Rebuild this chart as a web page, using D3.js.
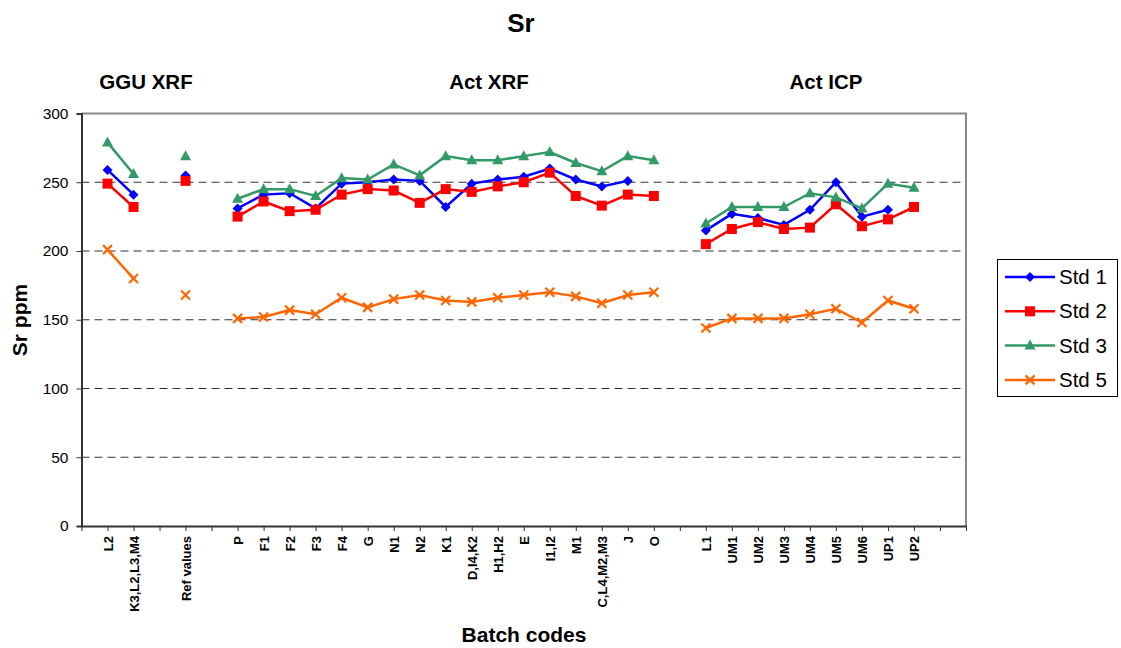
<!DOCTYPE html>
<html><head><meta charset="utf-8">
<script src="https://cdn.jsdelivr.net/npm/d3@7"></script>
<style>body{margin:0;background:#fff;} text{font-family:"Liberation Sans",Arial,sans-serif;}</style>
</head><body>
<svg id="chart" width="1121" height="648"></svg>
<script>
const categories = ["L2","K3,L2,L3,M4","","Ref values","","P","F1","F2","F3","F4","G","N1","N2","K1","D,I4,K2","H1,H2","E","I1,I2","M1","C,L4,M2,M3","J","O","","L1","UM1","UM2","UM3","UM4","UM5","UM6","UP1","UP2",""];
const std1 = [259,241,null,255,null,231,241,242,231,249,250,252,251,232,249,252,254,260,252,247,251,null,null,215,227,224,219,230,250,225,230,null,null];
const std2 = [249,232,null,251,null,225,236,229,230,241,245,244,235,245,243,247,250,257,240,233,241,240,null,205,216,221,216,217,234,218,223,232,null];
const std3 = [279,256,null,269,null,238,245,245,240,253,252,263,255,269,266,266,269,272,264,258,269,266,null,220,232,232,232,242,239,231,249,246,null];
const std5 = [201,180,null,168,null,151,152,157,154,166,159,165,168,164,163,166,168,170,167,162,168,170,null,144,151,151,151,154,158,148,164,158,null];
const yTicks = [0,50,100,150,200,250,300];
const seriesNames = ["Std 1","Std 2","Std 3","Std 5"];
const groupTitles = ["GGU XRF","Act XRF","Act ICP"];

const series = [
  {name: seriesNames[0], values: std1, color: "#0000FF", marker: "diamond"},
  {name: seriesNames[1], values: std2, color: "#FF0000", marker: "square"},
  {name: seriesNames[2], values: std3, color: "#339966", marker: "triangle"},
  {name: seriesNames[3], values: std5, color: "#FF6600", marker: "x"}
];

const svg = d3.select("#chart");
const L = 81.5, R = 966, T = 113.5, B = 526;
const x = d3.scaleLinear().domain([0, categories.length + 1]).range([L, R]);
const y = d3.scaleLinear().domain([0, 300]).range([B, T]);

// gridlines
svg.append("g").selectAll("line").data(yTicks.filter(v => v > 0 && v < 300)).join("line")
  .attr("x1", L).attr("x2", R).attr("y1", d => y(d)).attr("y2", d => y(d))
  .attr("stroke", "#333").attr("stroke-width", 1).attr("stroke-dasharray", "8,5");

// plot border top/right (gray)
svg.append("path").attr("d", `M${L},${T}H${R}V${B}`).attr("fill", "none").attr("stroke", "#888").attr("stroke-width", 2);

// y axis
const yAxis = svg.append("g").attr("transform", `translate(${L},0)`)
  .call(d3.axisLeft(y).tickValues(yTicks).tickSize(5).tickPadding(8));
yAxis.select(".domain").attr("stroke", "#333").attr("stroke-width", 2);
yAxis.selectAll(".tick line").attr("stroke", "#333");
yAxis.selectAll("text").attr("font-size", 15.5).attr("fill", "#000").style("font-family", "Liberation Sans, Arial, sans-serif");

// x axis
const idx = d3.range(0, categories.length + 2);
const xAxis = svg.append("g").attr("transform", `translate(0,${B})`)
  .call(d3.axisBottom(x).tickValues(idx).tickSize(5).tickSizeOuter(0)
    .tickFormat(i => (i >= 1 && i <= categories.length) ? categories[i - 1] : ""));
xAxis.select(".domain").attr("stroke", "#333").attr("stroke-width", 2);
xAxis.selectAll(".tick line").attr("stroke", "#333");
xAxis.selectAll("text")
  .attr("font-size", 13).attr("font-weight", "bold").attr("fill", "#000")
  .style("font-family", "Liberation Sans, Arial, sans-serif")
  .attr("text-anchor", "end").attr("dy", "0.35em")
  .attr("transform", "rotate(-90)")
  .attr("x", -10).attr("y", 0);

// markers
function drawMarker(g, type, color, cx, cy) {
  if (type === "diamond") {
    g.append("path").attr("d", `M${cx},${cy-5}L${cx+5},${cy}L${cx},${cy+5}L${cx-5},${cy}Z`).attr("fill", color);
  } else if (type === "square") {
    g.append("rect").attr("x", cx-5).attr("y", cy-5).attr("width", 10).attr("height", 10).attr("fill", color);
  } else if (type === "triangle") {
    g.append("path").attr("d", `M${cx},${cy-6}L${cx+5.5},${cy+4}L${cx-5.5},${cy+4}Z`).attr("fill", color);
  } else {
    g.append("path").attr("d", `M${cx-4.5},${cy-4.5}L${cx+4.5},${cy+4.5}M${cx+4.5},${cy-4.5}L${cx-4.5},${cy+4.5}`)
      .attr("stroke", color).attr("stroke-width", 2.2).attr("fill", "none");
  }
}

const line = d3.line().defined(d => d.v != null).x(d => x(d.i + 1)).y(d => y(d.v));
series.forEach(s => {
  const pts = s.values.map((v, i) => ({i, v}));
  const g = svg.append("g");
  g.append("path").datum(pts).attr("d", line).attr("fill", "none").attr("stroke", s.color).attr("stroke-width", 2.5);
  pts.filter(d => d.v != null).forEach(d => drawMarker(g, s.marker, s.color, x(d.i + 1), y(d.v)));
});

// titles
svg.append("text").attr("x", 521).attr("y", 32).attr("text-anchor", "middle").attr("font-size", 26).attr("font-weight", "bold").text("Sr");
const groupX = [146, 489, 826];
groupTitles.forEach((t, k) => svg.append("text").attr("x", groupX[k]).attr("y", 89).attr("text-anchor", "middle")
  .attr("font-size", 20.5).attr("font-weight", "bold").text(t));
svg.append("text").attr("transform", "translate(27,320) rotate(-90)").attr("text-anchor", "middle")
  .attr("font-size", 21).attr("font-weight", "bold").text("Sr ppm");
svg.append("text").attr("x", 524).attr("y", 642).attr("text-anchor", "middle")
  .attr("font-size", 21).attr("font-weight", "bold").text("Batch codes");

// legend
const lg = svg.append("g");
lg.append("rect").attr("x", 997.5).attr("y", 259.5).attr("width", 120).attr("height", 137).attr("fill", "#fff").attr("stroke", "#000").attr("stroke-width", 1);
series.forEach((s, k) => {
  const ly = 277 + k * 34.3;
  lg.append("line").attr("x1", 1005).attr("x2", 1055).attr("y1", ly).attr("y2", ly).attr("stroke", s.color).attr("stroke-width", 2.5);
  drawMarker(lg, s.marker, s.color, 1030, ly);
  lg.append("text").attr("x", 1059).attr("y", ly + 7).attr("font-size", 20.5).text(s.name);
});
</script>
</body></html>
